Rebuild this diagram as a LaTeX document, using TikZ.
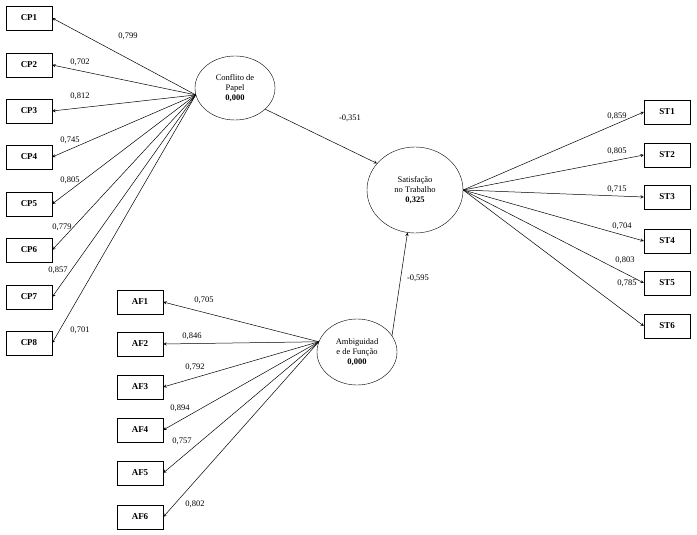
\documentclass[tikz,border=0pt]{standalone}
\usepackage{fontspec}
\setmainfont{Liberation Serif}
\usetikzlibrary{shapes.geometric}
\begin{document}
\begin{tikzpicture}[x=1pt,y=-1pt,
 box/.style={draw,minimum width=46pt,minimum height=24pt,inner sep=0pt,font=\fontsize{9}{10}\selectfont\bfseries},
 lv/.style={draw,ellipse,inner sep=0pt,align=center,font=\fontsize{8.5}{10}\selectfont},
 arr/.style={-stealth,line width=0.5pt},
 lb/.style={font=\fontsize{8.5}{10}\selectfont}]
\useasboundingbox (0,0) rectangle (697,535);
\node[lv,minimum width=80pt,minimum height=64pt] (cp) at (235,88) {Conflito de\\Papel\\\textbf{0,000}};
\node[lv,minimum width=96pt,minimum height=86pt] (st) at (415,190) {Satisfação\\no Trabalho\\\textbf{0,325}};
\node[lv,minimum width=80pt,minimum height=66pt] (af) at (357,352) {Ambiguidad\\e de Função\\\textbf{0,000}};
\foreach \i/\y in {1/18,2/65,3/111,4/157,5/204,6/250,7/297,8/343}
  {\node[box] (CP\i) at (29,\y) {CP\i}; \draw[arr] (cp.190) -- (CP\i.east);}
\foreach \i/\y in {1/302,2/344,3/387,4/430,5/473,6/517}
  {\node[box] (AF\i) at (140,\y) {AF\i}; \draw[arr] (af.165) -- (AF\i.east);}
\foreach \i/\y in {1/112,2/155,3/197,4/241,5/283,6/326}
  {\node[box] (ST\i) at (667,\y) {ST\i}; \draw[arr] (st.east) -- (ST\i.west);}
\draw[arr] (cp.-35) -- (st.145);
\draw[arr] (af.25) -- (st.-100);
\foreach \t/\x/\y in {{0,799}/128/36,{0,702}/80/62,{0,812}/80/96,{0,745}/70/140,{0,805}/70/180,{0,779}/62/227,{0,857}/58/270,{0,701}/80/330,
 {0,705}/204/300,{0,846}/192/336,{0,792}/195/367,{0,894}/180/408,{0,757}/182/441,{0,802}/195/504,
 {0,859}/617/116,{0,805}/617/151,{0,715}/617/189,{0,704}/622/226,{0,803}/625/260,{0,785}/627/283,{-0,351}/350/118,{-0,595}/418/278}
  {\node[lb] at (\x,\y) {\t};}
\end{tikzpicture}
\end{document}
